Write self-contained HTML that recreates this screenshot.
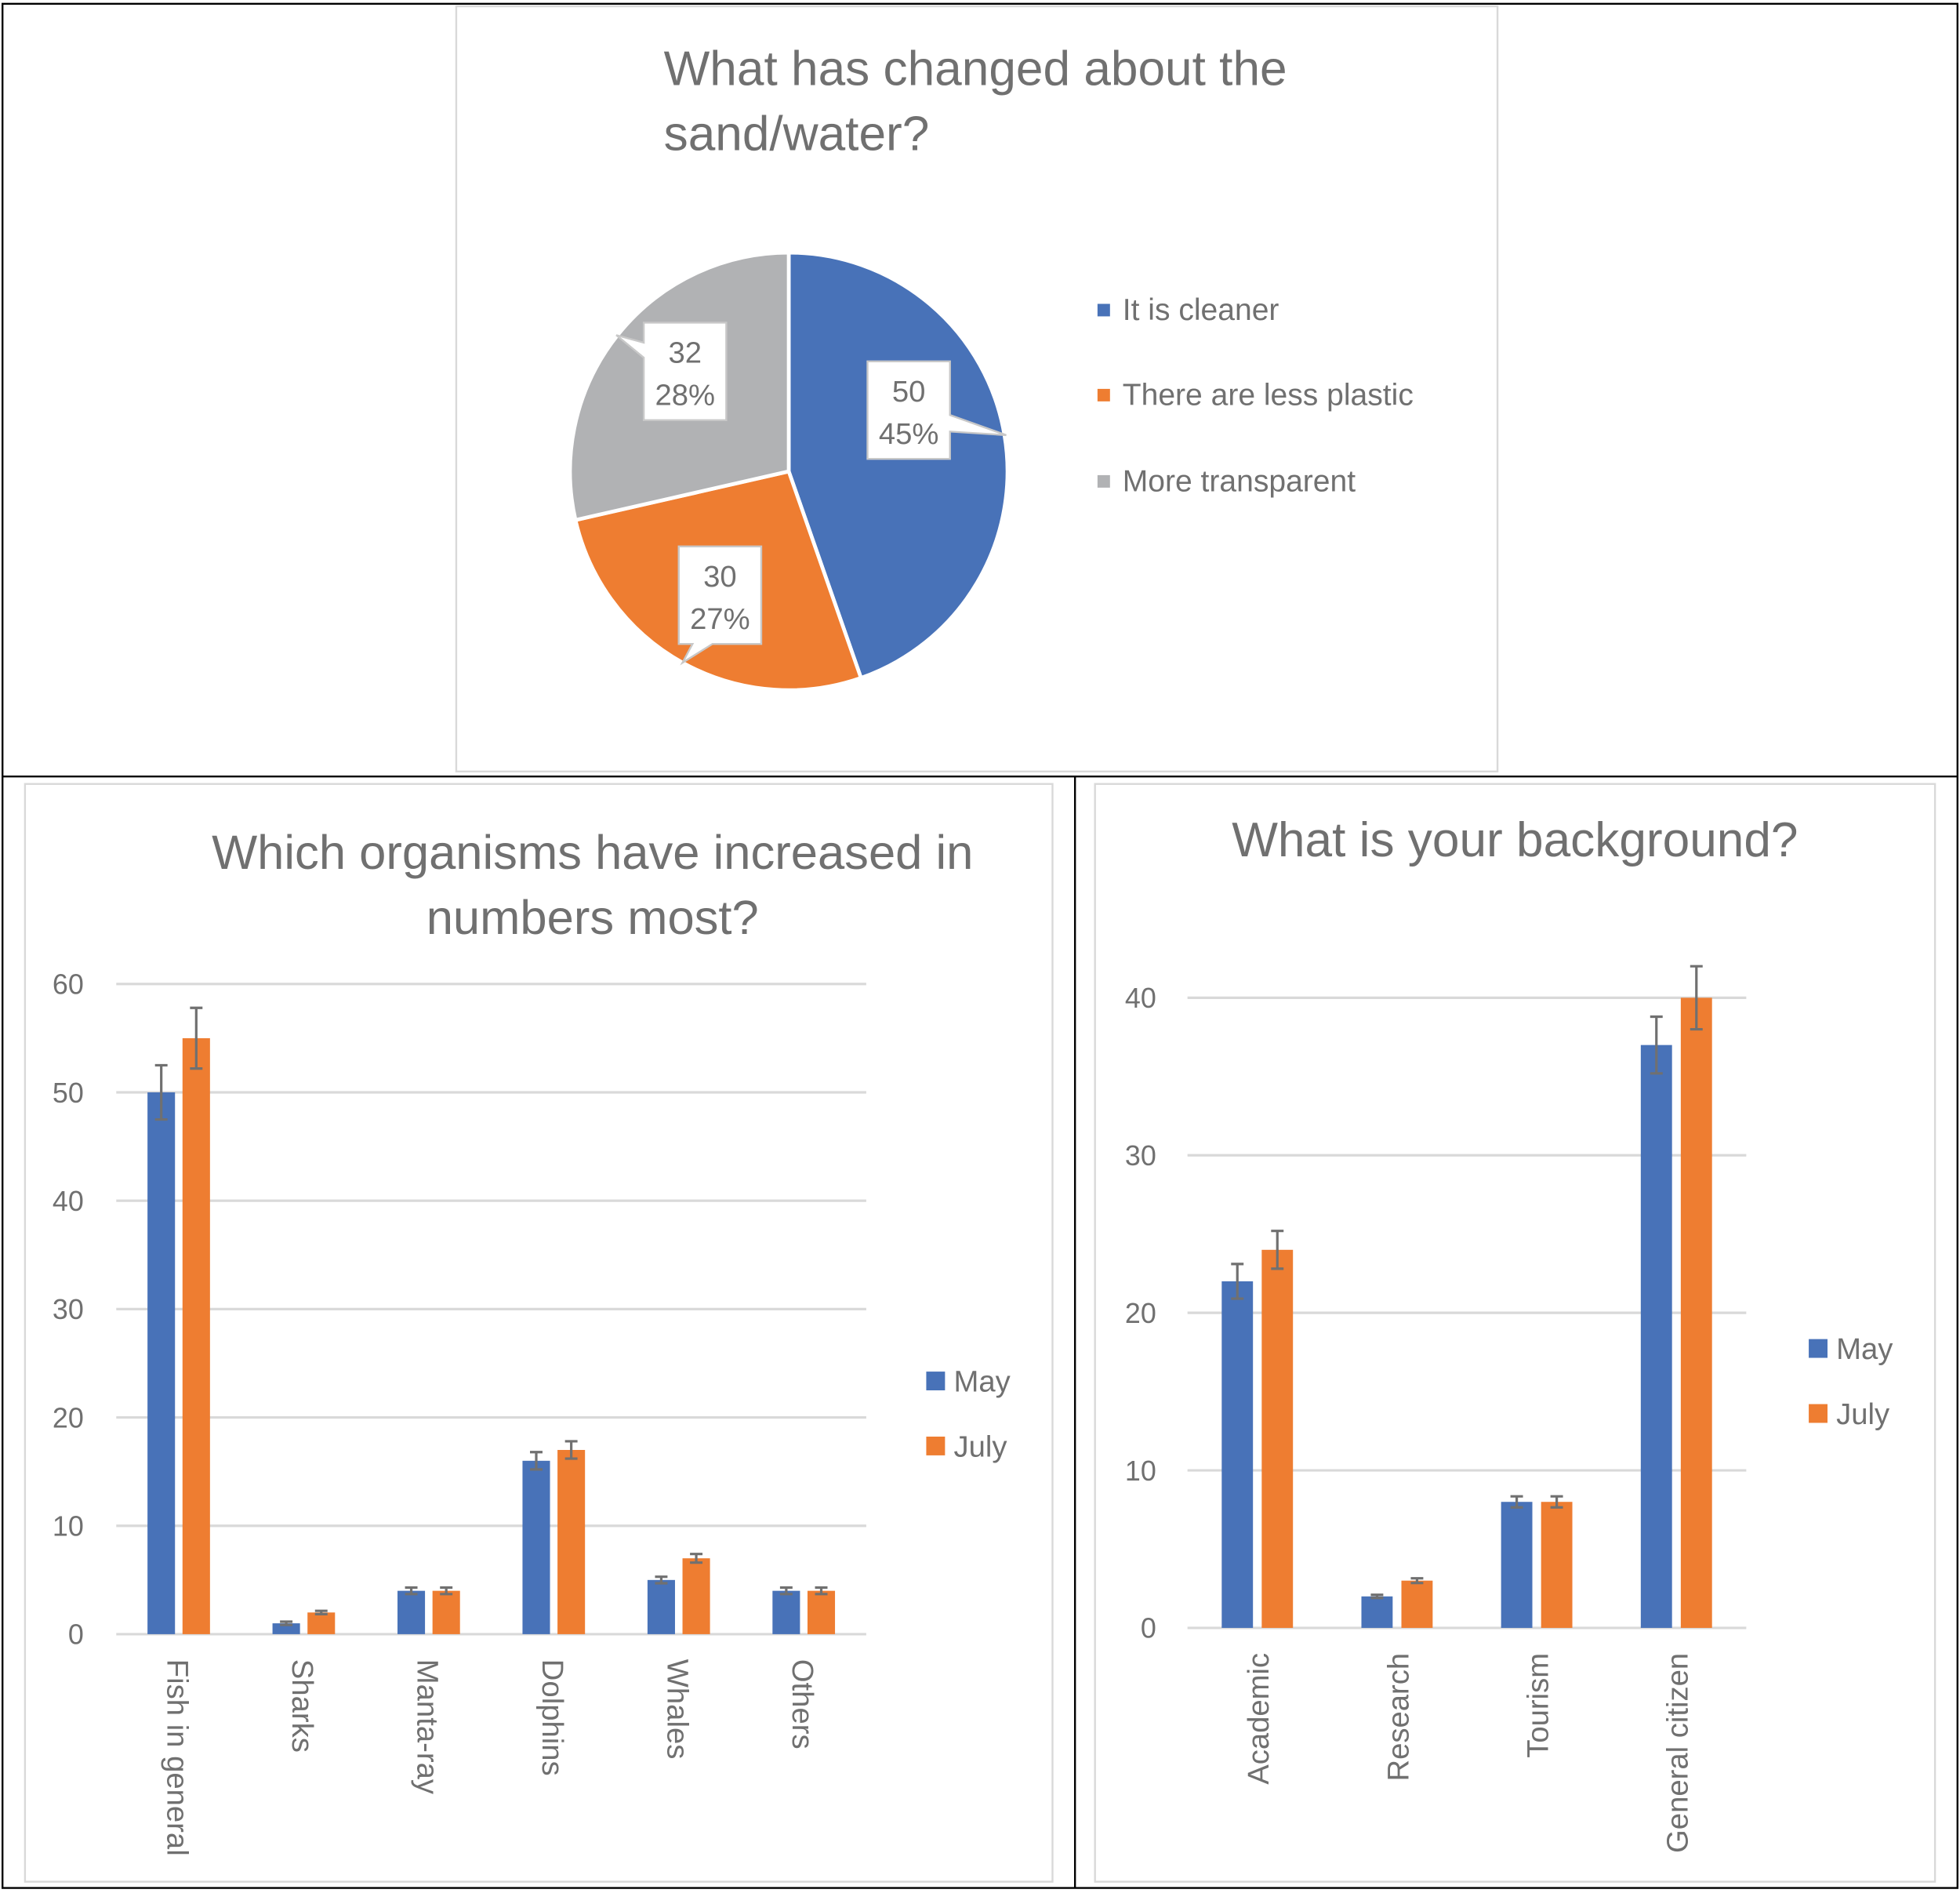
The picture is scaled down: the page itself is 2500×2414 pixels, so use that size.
<!DOCTYPE html>
<html><head><meta charset="utf-8"><style>
html,body{margin:0;padding:0;background:#fff;}
svg{display:block;}
text{font-family:"Liberation Sans",sans-serif;fill:#707070;}
</style></head><body>
<svg id="s" width="2500" height="2414" viewBox="0 0 1568 1514" xmlns="http://www.w3.org/2000/svg">
<g fill="none" stroke="#000" stroke-width="1.5">
<rect x="2" y="3" width="1564" height="1507"/>
<line x1="2" y1="621" x2="1566" y2="621"/>
<line x1="860" y1="621" x2="860" y2="1510"/>
</g>
<rect x="365" y="5" width="833" height="612" fill="none" stroke="#d9d9d9" stroke-width="1.5"/>
<text x="531" y="68" font-size="39">What has changed about the</text>
<text x="531" y="120" font-size="39">sand/water?</text>
<g id="pie"></g>
<g>
<rect x="878" y="243" width="10" height="10" fill="#4872b8"/>
<text x="898" y="256" font-size="24.5">It is cleaner</text>
<rect x="878" y="311" width="10" height="10" fill="#ee7d31"/>
<text x="898" y="324" font-size="24.5">There are less plastic</text>
<rect x="878" y="380" width="10" height="10" fill="#b1b2b4"/>
<text x="898" y="393" font-size="24.5">More transparent</text>
</g>
<rect x="20" y="627" width="822" height="878" fill="none" stroke="#d9d9d9" stroke-width="1.5"/>
<text x="474" y="695" font-size="38.6" text-anchor="middle">Which organisms have increased in</text>
<text x="474" y="747" font-size="38.6" text-anchor="middle">numbers most?</text>
<g id="c1"></g>
<rect x="876" y="627" width="672" height="878" fill="none" stroke="#d9d9d9" stroke-width="1.5"/>
<text x="1212" y="685" font-size="39" text-anchor="middle">What is your background?</text>
<g id="c2"></g>
</svg>
<script>
const NS="http://www.w3.org/2000/svg";
const pieLabels=["It is cleaner","There are less plastic","More transparent"];
const pieValues=[50,30,32];
const piePercents=["45%","27%","28%"];
const pieColors=["#4872b8","#ee7d31","#b1b2b4"];

const orgCats=["Fish in general","Sharks","Manta-ray","Dolphins","Whales","Others"];
const orgMay=[50,1,4,16,5,4];
const orgJuly=[55,2,4,17,7,4];
const orgMayErr=[2.5,0.15,0.3,0.8,0.3,0.3];
const orgJulyErr=[2.8,0.15,0.3,0.8,0.4,0.3];
const orgTicks=[0,10,20,30,40,50,60];

const bgCats=["Academic","Research","Tourism","General citizen"];
const bgMay=[22,2,8,37];
const bgJuly=[24,3,8,40];
const bgMayErr=[1.1,0.1,0.35,1.8];
const bgJulyErr=[1.2,0.15,0.35,2.0];
const bgTicks=[0,10,20,30,40];

function mk(tag,attrs,parent){const e=document.createElementNS(NS,tag);for(const k in attrs)e.setAttribute(k,attrs[k]);parent.appendChild(e);return e;}

(function(){
  const g=document.getElementById('pie');
  const cx=631,cy=377,r=175;
  const total=pieValues.reduce((a,b)=>a+b,0);
  let a0=-Math.PI/2;
  const callouts=[{bx:694,by:289,tx:805,ty:348,side:'r'},{bx:543,by:437,tx:546,ty:530,side:'b'},{bx:515,by:258,tx:493,ty:268,side:'l'}];
  pieValues.forEach((v,i)=>{
    const a1=a0+v/total*2*Math.PI;
    const x0=cx+r*Math.cos(a0),y0=cy+r*Math.sin(a0),x1=cx+r*Math.cos(a1),y1=cy+r*Math.sin(a1);
    const p=mk('path',{d:`M${cx},${cy}L${x0},${y0}A${r},${r} 0 ${(a1-a0)>Math.PI?1:0} 1 ${x1},${y1}Z`,fill:pieColors[i],stroke:'#fff','stroke-width':3},g);
    
    
    a0=a1;
  });
  pieValues.forEach((v,i)=>{
    const c=callouts[i],w=66,h=78,x=c.bx,y=c.by;
    let d;
    if(c.side==='r') d=`M${x},${y}H${x+w}V${y+h*0.55}L${c.tx},${c.ty}L${x+w},${y+h*0.72}V${y+h}H${x}Z`;
    else if(c.side==='b') d=`M${x},${y}H${x+w}V${y+h}H${x+27}L${c.tx},${c.ty}L${x+11},${y+h}H${x}Z`;
    else d=`M${x},${y}H${x+w}V${y+h}H${x}V${y+28}L${c.tx},${c.ty}L${x},${y+16}Z`;
    const p=mk('path',{d:d,fill:'#fff',stroke:'#c8c8c8','stroke-width':1.5},g);
    
    
    const t1=mk('text',{x:x+w/2,y:y+32,'font-size':24,'text-anchor':'middle'},g);t1.textContent=v;
    
    
    const t2=mk('text',{x:x+w/2,y:y+66,'font-size':24,'text-anchor':'middle'},g);t2.textContent=piePercents[i];
    
    
  });
})();

function barChart(id,cats,may,july,mayErr,julyErr,ticks,o){
  const g=document.getElementById(id);
  const max=ticks[ticks.length-1];
  const y=v=>o.y0-(v/max)*(o.y0-o.yTop);
  const band=(o.x1-o.x0)/cats.length;
  ticks.forEach(t=>{
    const l=mk('line',{x1:o.x0,x2:o.x1,y1:y(t),y2:y(t),stroke:'#d9d9d9','stroke-width':2},g);
    
    
    const tx=mk('text',{x:o.tickX,y:y(t)+8,'font-size':22.5,'text-anchor':'end'},g);tx.textContent=t;
    
    
  });
  cats.forEach((c,i)=>{
    const cx=o.x0+band*(i+0.5);
    [[may[i],mayErr[i],'#4872b8',cx-o.gap/2-o.bw,'may'],[july[i],julyErr[i],'#ee7d31',cx+o.gap/2,'july']].forEach(s=>{
      const r=mk('rect',{x:s[3],y:y(s[0]),width:o.bw,height:o.y0-y(s[0]),fill:s[2]},g);
      
      
      const ex=s[3]+o.bw/2,eh=y(s[0]+s[1]),el=y(s[0]-s[1]);
      const e=mk('path',{d:`M${ex},${eh}V${el}M${ex-5},${eh}H${ex+5}M${ex-5},${el}H${ex+5}`,stroke:'#707070','stroke-width':2,fill:'none'},g);
      
      
    });
    const t=mk('text',{x:0,y:0,'font-size':24,transform:`translate(${cx+o.lblDx},${o.y0+20}) rotate(${o.rot})`,'text-anchor':o.rot>0?'start':'end'},g);
    t.textContent=c;
    
    
  });
  [['May','#4872b8',o.legY],['July','#ee7d31',o.legY+52]].forEach(L=>{
    const r=mk('rect',{x:o.legX,y:L[2]-8,width:15,height:15,fill:L[1]},g);
    
    
    const t=mk('text',{x:o.legX+22,y:L[2]+8,'font-size':24},g);t.textContent=L[0];
    
    
  });
}
barChart('c1',orgCats,orgMay,orgJuly,orgMayErr,orgJulyErr,orgTicks,{x0:93,x1:693,y0:1307,yTop:787,bw:22,gap:6,tickX:67,rot:90,lblDx:-9,legX:741,legY:1105});
barChart('c2',bgCats,bgMay,bgJuly,bgMayErr,bgJulyErr,bgTicks,{x0:950,x1:1397,y0:1302,yTop:798,bw:25,gap:7,tickX:925,rot:-90,lblDx:9,legX:1447,legY:1079});
</script>
</body></html>
